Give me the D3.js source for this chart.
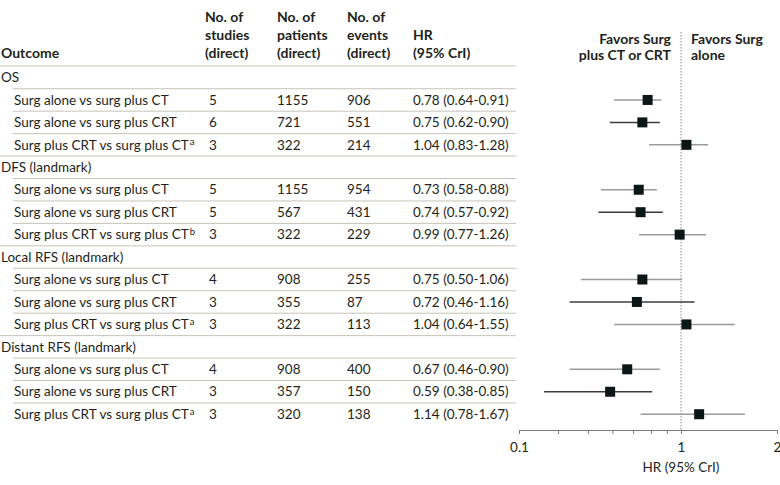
<!DOCTYPE html>
<html>
<head>
<meta charset="utf-8">
<script src="https://cdn.jsdelivr.net/npm/d3@7"></script>
<style>
  body { margin: 0; background: #fff; }
  svg { display: block; font-family: Lato, "Liberation Sans", sans-serif; }
</style>
</head>
<body>
<svg id="chart" width="780" height="485"></svg>
<script>
// outcomes and comparisons (rows of the table)
const groups = ["OS", "DFS (landmark)", "Local RFS (landmark)", "Distant RFS (landmark)"];
const comparisons = ["Surg alone vs surg plus CT", "Surg alone vs surg plus CRT", "Surg plus CRT vs surg plus CT"];
const footnotes = [["", "", "a"], ["", "", "b"], ["", "", "a"], ["", "", "a"]];

// table values, one inner array per outcome
const studies  = [[5, 6, 3], [5, 5, 3], [4, 3, 3], [4, 3, 3]];
const patients = [[1155, 721, 322], [1155, 567, 322], [908, 355, 322], [908, 357, 320]];
const events   = [[906, 551, 214], [954, 431, 229], [255, 87, 113], [400, 150, 138]];
const hr       = [[0.78, 0.75, 1.04], [0.73, 0.74, 0.99], [0.75, 0.72, 1.04], [0.67, 0.59, 1.14]];
const lower    = [[0.64, 0.62, 0.83], [0.58, 0.57, 0.77], [0.50, 0.46, 0.64], [0.46, 0.38, 0.78]];
const upper    = [[0.91, 0.90, 1.28], [0.88, 0.92, 1.26], [1.06, 1.16, 1.55], [0.90, 0.85, 1.67]];

// x axis ticks
const tickValues = [0.1, 0.4, 0.5, 0.6, 0.7, 0.8, 0.9, 1, 2];
const tickLabels = ["0.1", "", "", "", "", "", "", "1", "2"];

const svg = d3.select("#chart");
const textColor = "#231f20";
const ruleColor = "#c6c3b8";
const fs = 13.5;

// flatten to rows
const rows = [];
groups.forEach((g, gi) => {
  rows.push({ type: "group", label: g, gi });
  comparisons.forEach((c, ci) => {
    rows.push({
      type: "item", label: c, sup: footnotes[gi][ci], gi, ci,
      studies: studies[gi][ci], patients: patients[gi][ci], events: events[gi][ci],
      hr: hr[gi][ci], lo: lower[gi][ci], hi: upper[gi][ci]
    });
  });
});

const y = d3.scalePoint()
  .domain(d3.range(rows.length))
  .range([77.5, 414.2]);
const step = y.step();

// broken log axis: 0.1 squeezed at the left end
const x = d3.scaleLog()
  .domain([0.1, 0.35, 1, 2])
  .range([519, 540, 681, 777]);

const cols = { studies: 209, patients: 277, events: 347, hr: 413 };

// header
const header = svg.append("g")
  .attr("font-size", 14)
  .attr("font-weight", "bold")
  .attr("fill", textColor);

const headLines = [21.5, 39.5, 57.5];
header.append("text").attr("x", 1).attr("y", headLines[2]).text("Outcome");
[["studies", ["No. of", "studies", "(direct)"]],
 ["patients", ["No. of", "patients", "(direct)"]],
 ["events", ["No. of", "events", "(direct)"]],
 ["hr", ["", "HR", "(95% CrI)"]]].forEach(([k, lines]) => {
  lines.forEach((t, i) => {
    header.append("text")
      .attr("x", k === "studies" ? cols[k] - 4 : cols[k])
      .attr("y", headLines[i]).text(t);
  });
});

svg.append("line")
  .attr("x1", 0).attr("x2", 516)
  .attr("y1", 66).attr("y2", 66)
  .attr("stroke", ruleColor);

// row rules
rows.forEach((r, i) => {
  if (i === rows.length - 1) return;
  const lastOfGroup = r.type === "item" && r.ci === comparisons.length - 1;
  svg.append("line")
    .attr("x1", lastOfGroup ? 0 : 13).attr("x2", 516)
    .attr("y1", y(i) + step / 2).attr("y2", y(i) + step / 2)
    .attr("stroke", ruleColor);
});

// table text
const body = svg.append("g")
  .attr("font-size", fs)
  .attr("fill", textColor);

rows.forEach((r, i) => {
  const ty = y(i);
  const lbl = body.append("text")
    .attr("x", r.type === "group" ? 1 : 14)
    .attr("y", ty).attr("dy", "0.35em")
    .text(r.label);
  if (r.type !== "item") return;
  if (r.sup) {
    lbl.append("tspan").attr("font-size", 9.5).attr("dx", 1).attr("dy", "-0.45em").text(r.sup);
  }
  body.append("text").attr("x", cols.studies).attr("y", ty).attr("dy", "0.35em").text(r.studies);
  body.append("text").attr("x", cols.patients).attr("y", ty).attr("dy", "0.35em").text(r.patients);
  body.append("text").attr("x", cols.events).attr("y", ty).attr("dy", "0.35em").text(r.events);
  body.append("text").attr("x", cols.hr).attr("y", ty).attr("dy", "0.35em")
    .text(`${r.hr.toFixed(2)} (${r.lo.toFixed(2)}-${r.hi.toFixed(2)})`);
});

// favors labels
const fav = svg.append("g")
  .attr("font-size", 14)
  .attr("font-weight", "bold")
  .attr("fill", textColor);
fav.append("text").attr("x", x(1) - 10).attr("y", 44).attr("text-anchor", "end").text("Favors Surg");
fav.append("text").attr("x", x(1) - 10).attr("y", 60).attr("text-anchor", "end").text("plus CT or CRT");
fav.append("text").attr("x", x(1) + 10).attr("y", 44).text("Favors Surg");
fav.append("text").attr("x", x(1) + 10).attr("y", 60).text("alone");

// reference line at HR = 1
svg.append("line")
  .attr("x1", x(1)).attr("x2", x(1))
  .attr("y1", 32).attr("y2", 430)
  .attr("stroke", "#8a8a8a")
  .attr("stroke-dasharray", "1.5,1.5");

// intervals (drawn a few px left, as in the source figure)
const items = rows.map((r, i) => ({ ...r, i })).filter(r => r.type === "item");

svg.append("g")
  .attr("transform", "translate(-7,0)")
  .selectAll("line")
  .data(items)
  .join("line")
  .attr("x1", d => x(d.lo))
  .attr("x2", d => x(d.hi))
  .attr("y1", d => y(d.i))
  .attr("y2", d => y(d.i))
  .attr("stroke", d => d.ci === 1 ? "#3d3d3d" : "#9b9b9b")
  .attr("stroke-width", 1.5);

const sq = 10;
svg.append("g")
  .selectAll("rect")
  .data(items)
  .join("rect")
  .attr("x", d => x(d.hr) - sq / 2)
  .attr("y", d => y(d.i) - sq / 2)
  .attr("width", sq)
  .attr("height", sq)
  .attr("fill", "#0b1717");

// x axis
const axis = svg.append("g")
  .attr("transform", "translate(0,430)")
  .call(d3.axisBottom(x)
    .tickValues(tickValues)
    .tickFormat((d, i) => tickLabels[i])
    .tickSize(4)
    .tickSizeOuter(0)
    .tickPadding(8));

axis.select(".domain").attr("stroke", "#7a7a7a");
axis.selectAll(".tick line").attr("stroke", "#7a7a7a");
axis.selectAll(".tick text")
  .attr("font-size", fs)
  .attr("font-family", "Lato, 'Liberation Sans', sans-serif")
  .attr("fill", textColor);

svg.append("text")
  .attr("x", x(1))
  .attr("y", 471.5)
  .attr("text-anchor", "middle")
  .attr("font-size", fs)
  .attr("fill", textColor)
  .text("HR (95% CrI)");
</script>
</body>
</html>
